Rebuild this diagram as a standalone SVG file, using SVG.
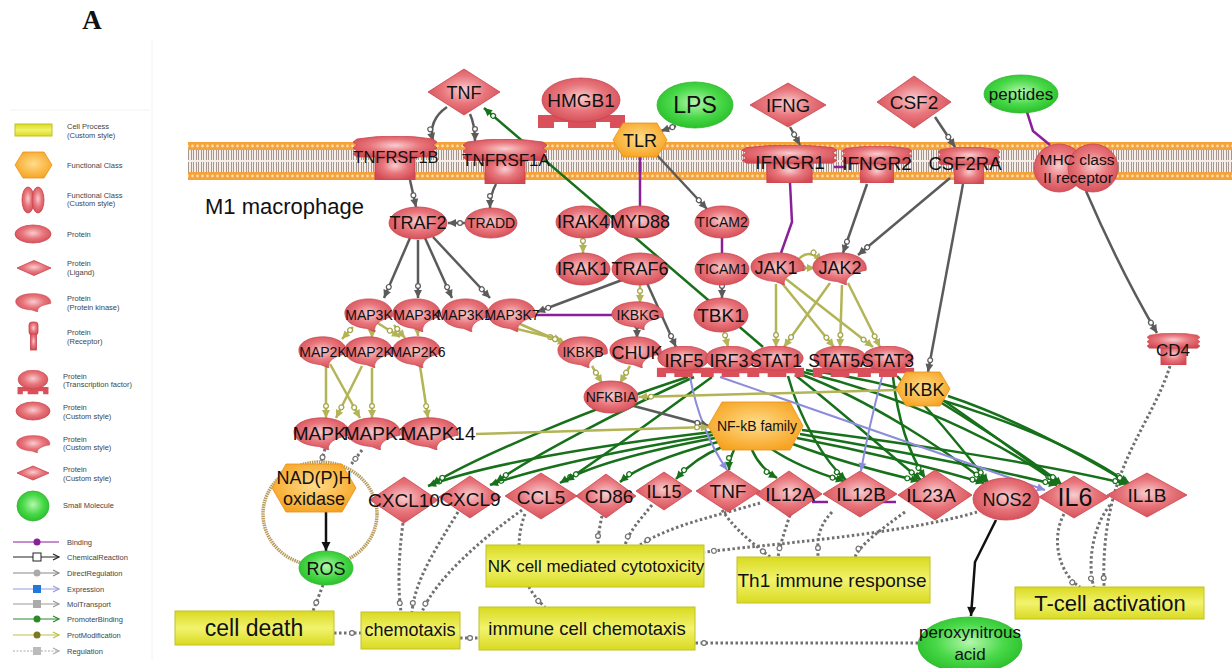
<svg xmlns="http://www.w3.org/2000/svg" xmlns:xlink="http://www.w3.org/1999/xlink" width="1232" height="668" viewBox="0 0 1232 668">
<style>
.t{font-family:"Liberation Sans",Arial,sans-serif;text-anchor:middle;fill:#111}
.lg{font-family:"Liberation Sans",Arial,sans-serif;font-size:7.5px;fill:#444}
.p{fill:url(#redG);stroke:#c9444e;stroke-width:0.8}
.o{fill:url(#orG);stroke:#e8901a;stroke-width:0.8}
.sm{fill:url(#grG);stroke:#2fb52f;stroke-width:0.8}
.cp{fill:url(#yeG);stroke:#c2c228;stroke-width:1}
.gr{fill:none;stroke:#5b5b5b;stroke-width:2.5;marker-end:url(#aG)}
.pu{fill:none;stroke:#8a1f9a;stroke-width:2.5}
.ol{fill:none;stroke:#b3b456;stroke-width:2.5;marker-end:url(#aO)}
.gn{fill:none;stroke:#17701a;stroke-width:2.5;marker-end:url(#aN)}
.bl{fill:none;stroke:#8c8cdc;stroke-width:2;marker-end:url(#aB)}
.dt{fill:none;stroke:#707070;stroke-width:3;stroke-dasharray:2.5 2.5;marker-end:url(#aD)}
.bk{fill:none;stroke:#111;stroke-width:2.5;marker-end:url(#aK)}
</style>
<defs>
<radialGradient id="redG" cx="50%" cy="45%" r="60%"><stop offset="0" stop-color="#f8cdd0"/><stop offset="0.5" stop-color="#e8767c"/><stop offset="1" stop-color="#d34a53"/></radialGradient>
<radialGradient id="orG" cx="50%" cy="45%" r="60%"><stop offset="0" stop-color="#ffdc8a"/><stop offset="1" stop-color="#f6a21e"/></radialGradient>
<radialGradient id="grG" cx="50%" cy="45%" r="60%"><stop offset="0" stop-color="#b5f7ad"/><stop offset="0.55" stop-color="#48d848"/><stop offset="1" stop-color="#25bb25"/></radialGradient>
<linearGradient id="yeG" x1="0" y1="0" x2="0" y2="1"><stop offset="0" stop-color="#d9da20"/><stop offset="0.5" stop-color="#f2f36e"/><stop offset="1" stop-color="#d9da20"/></linearGradient>
<pattern id="mem" x="0" y="142" width="5" height="38" patternUnits="userSpaceOnUse">
<rect width="5" height="38" fill="#f4ede8"/>
<rect width="5" height="8" fill="#f5a23a"/><circle cx="2.5" cy="4" r="1.4" fill="#ffdcaa"/>
<rect y="30" width="5" height="8" fill="#f5a23a"/><circle cx="2.5" cy="34" r="1.4" fill="#ffdcaa"/>
<path d="M1.5 8V18M3.5 8V18M1.5 20V30M3.5 20V30" stroke="#918179" stroke-width="0.8"/>
</pattern>
<symbol id="kin" viewBox="0 0 60 38" preserveAspectRatio="none"><path d="M58 21C60 8 45 1 30 1C13 1 1 8 1 17C1 27 13 33 27 34L37 38C35 30 43 24 58 21Z" fill="url(#redG)" stroke="#c9444e" stroke-width="0.8"/></symbol>
<symbol id="tf" viewBox="0 0 60 34" preserveAspectRatio="none"><path d="M1 23H59V33H49V29H40V33H20V29H11V33H1Z" fill="#d9505a"/><ellipse cx="30" cy="13" rx="28" ry="13" fill="url(#redG)" stroke="#c9444e" stroke-width="0.8"/></symbol>
<symbol id="rec" viewBox="0 0 84 44" preserveAspectRatio="none"><rect x="22" y="18" width="40" height="26" fill="url(#redG)" stroke="#c9444e" stroke-width="0.8"/><path d="M4 3Q42 -3 80 3L84 6L80 9L84 12L80 15L84 18L80 21L4 21L0 18L4 15L0 12L4 9L0 6Z" fill="url(#redG)" stroke="#c9444e" stroke-width="0.8"/></symbol>
<marker id="aG" markerUnits="userSpaceOnUse" markerWidth="20" markerHeight="20" refX="0" refY="0" orient="auto" overflow="visible"><path d="M0,0L-8,-4L-8,4Z" fill="#5b5b5b"/><circle cx="-12" cy="0" r="2.4" fill="#fff" stroke="#5b5b5b" stroke-width="1.2"/></marker>
<marker id="aO" markerUnits="userSpaceOnUse" markerWidth="20" markerHeight="20" refX="0" refY="0" orient="auto" overflow="visible"><path d="M0,0L-8,-4L-8,4Z" fill="#b3b456"/><circle cx="-12" cy="0" r="2.4" fill="#fff" stroke="#a3a44a" stroke-width="1.2"/></marker>
<marker id="aN" markerUnits="userSpaceOnUse" markerWidth="20" markerHeight="20" refX="0" refY="0" orient="auto" overflow="visible"><path d="M0,0L-8,-4L-8,4Z" fill="#17701a"/><circle cx="-12" cy="0" r="2.4" fill="#fff" stroke="#17701a" stroke-width="1.2"/></marker>
<marker id="aB" markerUnits="userSpaceOnUse" markerWidth="20" markerHeight="20" refX="0" refY="0" orient="auto" overflow="visible"><path d="M0,0L-8,-4L-8,4Z" fill="#8c8cdc"/></marker>
<marker id="aD" markerUnits="userSpaceOnUse" markerWidth="20" markerHeight="20" refX="0" refY="0" orient="auto" overflow="visible"><circle cx="-9" cy="0" r="2.4" fill="#fff" stroke="#707070" stroke-width="1.2"/></marker>
<marker id="aK" markerUnits="userSpaceOnUse" markerWidth="20" markerHeight="20" refX="0" refY="0" orient="auto" overflow="visible"><path d="M0,0L-9,-4.5L-9,4.5Z" fill="#111"/></marker>
<marker id="lA" markerUnits="userSpaceOnUse" markerWidth="20" markerHeight="20" refX="0" refY="0" orient="auto" overflow="visible"><path d="M-6,-3L0,0L-6,3" fill="none" stroke="context-stroke" stroke-width="1.2"/></marker>
</defs>
<rect width="1232" height="668" fill="#fff"/>
<text x="92" y="29" font-family="'Liberation Serif','Times New Roman',serif" font-weight="bold" font-size="27" text-anchor="middle" fill="#111">A</text>

<g id="legend">
<line x1="152" y1="40" x2="152" y2="660" stroke="#f2f2f2" stroke-width="1"/>
<line x1="10" y1="110" x2="150" y2="110" stroke="#f2f2f2" stroke-width="1"/>
<rect x="15" y="124" width="37" height="12" class="cp"/>
<polygon points="15,165 23,152 44,152 52,165 44,178 23,178" class="o"/>
<ellipse cx="28" cy="200" rx="6" ry="13" class="p"/><ellipse cx="38" cy="200" rx="6" ry="13" class="p"/>
<ellipse cx="33" cy="234" rx="18" ry="9" class="p"/>
<polygon points="17,268 34,260.5 51,268 34,275.5" class="p"/>
<use href="#kin" x="15" y="293" width="37" height="19"/>
<rect x="29" y="322" width="9" height="13" rx="3" class="p"/><rect x="30.5" y="334" width="6" height="16" class="p"/>
<use href="#tf" x="17" y="370" width="32" height="25"/>
<ellipse cx="33" cy="411" rx="17" ry="9" class="p"/>
<use href="#kin" x="16" y="435" width="35" height="18"/>
<polygon points="17,473 33,466 49,473 33,480" class="p"/>
<ellipse cx="33" cy="506" rx="16" ry="15" class="sm"/>
<line x1="13" y1="542" x2="59" y2="542" stroke="#8a1f9a" stroke-width="1.2"/><circle cx="37" cy="542" r="3.5" fill="#8a1f9a"/>
<line x1="13" y1="557" x2="59" y2="557" stroke="#222" stroke-width="1.2" marker-end="url(#lA)"/><rect x="33" y="553" width="8" height="8" fill="#fff" stroke="#222"/>
<line x1="13" y1="573" x2="59" y2="573" stroke="#888" stroke-width="1.2" marker-end="url(#lA)"/><circle cx="37" cy="573" r="3.5" fill="#aaa"/>
<line x1="13" y1="589" x2="59" y2="589" stroke="#9a9ae0" stroke-width="1.2" marker-end="url(#lA)"/><rect x="33" y="585" width="8" height="8" fill="#2277dd"/>
<line x1="13" y1="604" x2="59" y2="604" stroke="#999" stroke-width="1.2" marker-end="url(#lA)"/><rect x="33" y="600" width="8" height="8" fill="#aaa"/>
<line x1="13" y1="619" x2="59" y2="619" stroke="#2a8a2a" stroke-width="1.2" marker-end="url(#lA)"/><circle cx="37" cy="619" r="3.5" fill="#2a8a2a"/>
<line x1="13" y1="635" x2="59" y2="635" stroke="#c0c040" stroke-width="1.2" marker-end="url(#lA)"/><circle cx="37" cy="635" r="3.5" fill="#7a7a20"/>
<line x1="13" y1="651" x2="59" y2="651" stroke="#aaa" stroke-width="1.2" stroke-dasharray="2 1.5" marker-end="url(#lA)"/><rect x="33" y="647" width="8" height="8" fill="#bbb"/>
<text class="lg" x="67" y="129">Cell Process</text><text class="lg" x="67" y="138">(Custom style)</text>
<text class="lg" x="67" y="168">Functional Class</text>
<text class="lg" x="67" y="198">Functional Class</text><text class="lg" x="67" y="206">(Custom style)</text>
<text class="lg" x="67" y="237">Protein</text>
<text class="lg" x="67" y="266">Protein</text><text class="lg" x="67" y="275">(Ligand)</text>
<text class="lg" x="67" y="301">Protein</text><text class="lg" x="67" y="310">(Protein kinase)</text>
<text class="lg" x="67" y="335">Protein</text><text class="lg" x="67" y="344">(Receptor)</text>
<text class="lg" x="63" y="379">Protein</text><text class="lg" x="63" y="387">(Transcription factor)</text>
<text class="lg" x="63" y="410">Protein</text><text class="lg" x="63" y="419">(Custom style)</text>
<text class="lg" x="63" y="442">Protein</text><text class="lg" x="63" y="450">(Custom style)</text>
<text class="lg" x="63" y="472">Protein</text><text class="lg" x="63" y="481">(Custom style)</text>
<text class="lg" x="63" y="508">Small Molecule</text>
<text class="lg" x="67" y="545">Binding</text>
<text class="lg" x="67" y="560">ChemicalReaction</text>
<text class="lg" x="67" y="576">DirectRegulation</text>
<text class="lg" x="67" y="592">Expression</text>
<text class="lg" x="67" y="607">MolTransport</text>
<text class="lg" x="67" y="622">PromoterBinding</text>
<text class="lg" x="67" y="638">ProtModification</text>
<text class="lg" x="67" y="654">Regulation</text>
</g>

<g id="membrane">
<rect x="188" y="142" width="1044" height="38" fill="url(#mem)"/>
<text class="t" x="205" y="214" font-size="22" text-anchor="start" style="text-anchor:start">M1 macrophage</text>
</g>

<g id="connectors">
<!-- regulation (dotted) -->
<path class="dt" d="M325 449L320 466"/>
<path class="dt" d="M362 450L350 466"/>
<path class="dt" d="M323 585L313 611"/>
<path class="dt" d="M334 633L361 633"/>
<path class="dt" d="M460 638L479 638"/>
<path class="dt" d="M918 643L695 643"/>
<path class="dt" d="M403 523C398 560 398 590 401 612"/>
<path class="dt" d="M458 512C435 550 415 580 412 612"/>
<path class="dt" d="M522 510C480 540 435 580 422 612"/>
<path class="dt" d="M525 514C515 540 515 580 545 607"/>
<path class="dt" d="M602 516C600 525 598 535 598 545"/>
<path class="dt" d="M652 505C640 520 630 530 625 545"/>
<path class="dt" d="M760 503C720 515 670 525 640 545"/>
<path class="dt" d="M977 512C900 535 760 545 705 552"/>
<path class="dt" d="M722 510C735 530 755 545 770 557"/>
<path class="dt" d="M790 515C785 530 780 545 778 557"/>
<path class="dt" d="M832 512C815 530 818 545 818 557"/>
<path class="dt" d="M905 512C880 530 860 545 855 557"/>
<path class="dt" d="M1064 514C1050 540 1060 575 1080 587"/>
<path class="dt" d="M1110 505C1090 530 1088 570 1094 587"/>
<path class="dt" d="M1170 366C1150 430 1100 470 1104 587"/>
<!-- promoter binding (green) -->
<path class="gn" d="M763 347L484 108"/>
<path class="gn" d="M712 432C600 445 480 465 428 486"/>
<path class="gn" d="M713 435C620 450 530 470 490 485"/>
<path class="gn" d="M715 438C650 450 590 465 560 483"/>
<path class="gn" d="M718 442C680 452 640 465 620 482"/>
<path class="gn" d="M722 447Q695 458 676 479"/>
<path class="gn" d="M734 450Q729 460 729 470"/>
<path class="gn" d="M752 450Q760 468 777 478"/>
<path class="gn" d="M770 448C795 465 820 474 844 481"/>
<path class="gn" d="M790 443C830 458 880 472 919 481"/>
<path class="gn" d="M797 438C870 452 940 470 984 483"/>
<path class="gn" d="M800 434C880 448 990 468 1057 485"/>
<path class="gn" d="M802 430C900 442 1050 465 1127 484"/>
<path class="gn" d="M688 377C600 405 480 455 432 484"/>
<path class="gn" d="M694 377C620 410 530 458 496 482"/>
<path class="gn" d="M712 377C660 415 600 458 566 481"/>
<path class="gn" d="M788 376C800 420 825 462 846 480"/>
<path class="gn" d="M795 375C840 410 890 455 921 480"/>
<path class="gn" d="M800 374C870 400 945 450 986 482"/>
<path class="gn" d="M803 372C900 395 1000 440 1058 484"/>
<path class="gn" d="M806 370C920 385 1060 435 1128 483"/>
<path class="gn" d="M893 377C898 420 910 455 925 478"/>
<path class="gn" d="M897 376C930 410 965 452 988 482"/>
<path class="gn" d="M905 375C960 410 1020 455 1060 484"/>
<path class="gn" d="M940 402C985 430 1035 462 1062 485"/>
<path class="gn" d="M948 396C1020 420 1090 460 1130 484"/>
<!-- expression (blue) -->
<path class="bl" d="M690 377Q700 430 727 470"/>
<path class="bl" d="M720 377L1045 490"/>
<path class="bl" d="M882 377Q868 430 861 471"/>
<!-- direct regulation (gray) -->
<path class="gr" d="M447 107Q428 120 433 141"/>
<path class="gr" d="M470 114Q475 125 475 141"/>
<path class="gr" d="M410 180L416 207"/>
<path class="gr" d="M496 184Q490 195 490 208"/>
<path class="gr" d="M465 223L448 223"/>
<path class="gr" d="M410 238L384 298"/>
<path class="gr" d="M418 240L418 298"/>
<path class="gr" d="M425 238L452 298"/>
<path class="gr" d="M433 237L490 298"/>
<path class="gr" d="M622 280L537 312"/>
<path class="gr" d="M647 283L676 347"/>
<path class="gr" d="M637 327L637 338"/>
<path class="gr" d="M676 126L661 131"/>
<path class="gr" d="M655 153L707 209"/>
<path class="gr" d="M722 285L722 298"/>
<path class="gr" d="M790 127L800 145"/>
<path class="gr" d="M935 117L955 147"/>
<path class="gr" d="M867 184L843 253"/>
<path class="gr" d="M950 178L858 255"/>
<path class="gr" d="M963 184L928 372"/>
<path class="gr" d="M1086 191Q1120 270 1157 333"/>
<path class="gr" d="M630 405L709 426"/>
<!-- binding (purple) -->
<path class="pu" d="M640 157L640 207"/>
<path class="pu" d="M722 238L722 253"/>
<path class="pu" d="M790 183L792 222L781 253"/>
<path class="pu" d="M834 167L846 167"/>
<path class="pu" d="M1027 112L1033 131L1050 145"/>
<path class="pu" d="M536 315L612 315"/>
<path class="pu" d="M812 502L828 502"/>
<path class="pu" d="M882 502L896 502"/>
<!-- prot modification (olive) -->
<path class="ol" d="M583 238L583 253"/>
<path class="ol" d="M640 285L640 303"/>
<path class="ol" d="M724 331L728 347"/>
<path class="ol" d="M797 261Q808 247 822 261"/>
<path class="ol" d="M803 268L815 268"/>
<path class="ol" d="M776 284L776 347"/>
<path class="ol" d="M781 282L834 347"/>
<path class="ol" d="M786 279L873 347"/>
<path class="ol" d="M830 283L784 347"/>
<path class="ol" d="M842 285L840 347"/>
<path class="ol" d="M848 283L880 347"/>
<path class="ol" d="M353 327L342 339"/>
<path class="ol" d="M372 323L372 338"/>
<path class="ol" d="M376 322L400 337"/>
<path class="ol" d="M394 325L405 338"/>
<path class="ol" d="M417 323L418 336"/>
<path class="ol" d="M326 366L326 418"/>
<path class="ol" d="M330 364L360 418"/>
<path class="ol" d="M362 366L336 418"/>
<path class="ol" d="M372 368L372 418"/>
<path class="ol" d="M420 366L428 418"/>
<path class="ol" d="M505 326L562 340"/>
<path class="ol" d="M520 324L566 344"/>
<path class="ol" d="M592 366L602 383"/>
<path class="ol" d="M630 366L620 383"/>
<path class="ol" d="M476 434L709 427"/>
<path class="ol" d="M897 390L639 397"/>
<!-- chemical reaction (black) -->
<path class="bk" d="M326 512L326 551"/>
<path class="bk" d="M996 520L975 562L971 616"/>
</g>

<g id="ring"><ellipse cx="320" cy="514" rx="57" ry="52" fill="none" stroke="#b99b5c" stroke-width="3.5" stroke-dasharray="1.5 0.8"/></g>

<g id="n-TNF-top"><polygon class="p" points="428,92 464,69 500,92 464,115"/><text class="t" x="464" y="99" font-size="18">TNF</text></g>
<g id="n-HMGB1"><path d="M538 115H625V128H610V122H596V128H568V122H554V128H538Z" fill="#d9505a"/><ellipse class="p" cx="581" cy="100" rx="39" ry="22"/><text class="t" x="581" y="107" font-size="19">HMGB1</text></g>
<g id="n-LPS"><ellipse class="sm" cx="695" cy="105" rx="38" ry="23"/><text class="t" x="695" y="113" font-size="23">LPS</text></g>
<g id="n-TLR"><polygon class="o" points="613,140 623,123 657,123 667,140 657,157 623,157"/><text class="t" x="640" y="147" font-size="18">TLR</text></g>
<g id="n-IFNG"><polygon class="p" points="750,105 788,83 826,105 788,127"/><text class="t" x="788" y="112" font-size="18.5">IFNG</text></g>
<g id="n-CSF2"><polygon class="p" points="877,102 914,76 951,102 914,128"/><text class="t" x="914" y="109" font-size="19">CSF2</text></g>
<g id="n-peptides"><ellipse class="sm" cx="1021" cy="94" rx="37" ry="19"/><text class="t" x="1021" y="100" font-size="17">peptides</text></g>
<g id="n-TNFRSF1B"><use href="#rec" x="353" y="136" width="84" height="44"/><text class="t" x="396" y="163" font-size="16.5">TNFRSF1B</text></g>
<g id="n-TNFRSF1A"><use href="#rec" x="463" y="139" width="84" height="45"/><text class="t" x="506" y="166" font-size="17">TNFRSF1A</text></g>
<g id="n-IFNGR1"><use href="#rec" x="742" y="145" width="95" height="38"/><text class="t" x="790" y="169" font-size="19">IFNGR1</text></g>
<g id="n-IFNGR2"><use href="#rec" x="842" y="146" width="70" height="37"/><text class="t" x="877" y="170" font-size="19">IFNGR2</text></g>
<g id="n-CSF2RA"><use href="#rec" x="938" y="147" width="62" height="37"/><text class="t" x="965" y="170" font-size="18.5">CSF2RA</text></g>
<g id="n-MHC"><ellipse class="p" cx="1059" cy="168" rx="25" ry="24"/><ellipse class="p" cx="1093" cy="168" rx="25" ry="24"/><text class="t" x="1077" y="165" font-size="15.5">MHC class</text><text class="t" x="1078" y="183" font-size="15.5">II receptor</text></g>

<g id="n-TRAF2"><ellipse class="p" cx="418" cy="223" rx="29" ry="16"/><text class="t" x="418" y="229" font-size="18">TRAF2</text></g>
<g id="n-TRADD"><ellipse class="p" cx="491" cy="223" rx="26" ry="15"/><text class="t" x="491" y="228" font-size="14">TRADD</text></g>
<g id="n-IRAK4"><ellipse class="p" cx="583" cy="222" rx="27" ry="16"/><text class="t" x="583" y="228" font-size="18">IRAK4</text></g>
<g id="n-MYD88"><ellipse class="p" cx="640" cy="222" rx="28" ry="16"/><text class="t" x="640" y="228" font-size="18">MYD88</text></g>
<g id="n-TICAM2"><ellipse class="p" cx="722" cy="222" rx="27" ry="16"/><text class="t" x="722" y="227" font-size="14">TICAM2</text></g>
<g id="n-IRAK1"><ellipse class="p" cx="583" cy="269" rx="27" ry="16"/><text class="t" x="583" y="275" font-size="18">IRAK1</text></g>
<g id="n-TRAF6"><ellipse class="p" cx="640" cy="269" rx="28" ry="16"/><text class="t" x="640" y="275" font-size="18">TRAF6</text></g>
<g id="n-TICAM1"><ellipse class="p" cx="722" cy="269" rx="27" ry="16"/><text class="t" x="722" y="274" font-size="14">TICAM1</text></g>
<g id="n-JAK1"><use href="#kin" x="750" y="252" width="56" height="33"/><text class="t" x="776" y="274" font-size="18">JAK1</text></g>
<g id="n-JAK2"><use href="#kin" x="812" y="252" width="56" height="33"/><text class="t" x="840" y="274" font-size="18">JAK2</text></g>

<g id="n-MAP3K-1"><use href="#kin" x="344" y="298" width="50" height="34"/><text class="t" x="369" y="320" font-size="14">MAP3K</text></g>
<g id="n-MAP3K-2"><use href="#kin" x="392" y="298" width="50" height="34"/><text class="t" x="417" y="320" font-size="14">MAP3K</text></g>
<g id="n-MAP3K14"><use href="#kin" x="441" y="298" width="50" height="34"/><text class="t" x="468" y="320" font-size="14">MAP3K14</text></g>
<g id="n-MAP3K7"><use href="#kin" x="487" y="298" width="50" height="34"/><text class="t" x="512" y="320" font-size="14">MAP3K7</text></g>
<g id="n-IKBKG"><use href="#kin" x="611" y="301" width="54" height="29"/><text class="t" x="638" y="320" font-size="14">IKBKG</text></g>
<g id="n-TBK1"><ellipse class="p" cx="721" cy="315" rx="27" ry="17"/><text class="t" x="721" y="322" font-size="19">TBK1</text></g>

<g id="n-MAP2K-1"><use href="#kin" x="298" y="336" width="50" height="32"/><text class="t" x="323" y="357" font-size="14">MAP2K</text></g>
<g id="n-MAP2K-2"><use href="#kin" x="344" y="336" width="50" height="32"/><text class="t" x="369" y="357" font-size="14">MAP2K</text></g>
<g id="n-MAP2K6"><use href="#kin" x="392" y="336" width="50" height="32"/><text class="t" x="418" y="357" font-size="14">MAP2K6</text></g>
<g id="n-IKBKB"><use href="#kin" x="557" y="336" width="52" height="32"/><text class="t" x="583" y="357" font-size="14">IKBKB</text></g>
<g id="n-CHUK"><use href="#kin" x="609" y="336" width="54" height="32"/><text class="t" x="637" y="359" font-size="18">CHUK</text></g>

<g id="n-IRF5"><use href="#tf" x="656" y="346" width="55" height="32"/><text class="t" x="684" y="367" font-size="18">IRF5</text></g>
<g id="n-IRF3"><use href="#tf" x="704" y="346" width="53" height="32"/><text class="t" x="729" y="367" font-size="18">IRF3</text></g>
<g id="n-STAT1"><use href="#tf" x="749" y="346" width="56" height="32"/><text class="t" x="776" y="367" font-size="17.5">STAT1</text></g>
<g id="n-STAT5A"><use href="#tf" x="812" y="346" width="56" height="32"/><text class="t" x="840" y="367" font-size="17.5">STAT5A</text></g>
<g id="n-STAT3"><use href="#tf" x="861" y="346" width="54" height="32"/><text class="t" x="888" y="367" font-size="17.5">STAT3</text></g>
<g id="n-IKBK"><polygon class="o" points="896,389 906,372 940,372 950,389 940,406 906,406"/><text class="t" x="924" y="396" font-size="18">IKBK</text></g>
<g id="n-CD4"><use href="#rec" x="1147" y="333" width="53" height="32"/><text class="t" x="1173" y="356" font-size="17">CD4</text></g>
<g id="n-NFKBIA"><ellipse class="p" cx="611" cy="397" rx="27" ry="16"/><text class="t" x="611" y="402" font-size="14">NFKBIA</text></g>

<g id="n-MAPK3"><use href="#kin" x="293" y="417" width="58" height="33"/><text class="t" x="325" y="440" font-size="19">MAPK3</text></g>
<g id="n-MAPK1"><use href="#kin" x="346" y="417" width="56" height="33"/><text class="t" x="376" y="440" font-size="19">MAPK1</text></g>
<g id="n-MAPK14"><use href="#kin" x="400" y="417" width="60" height="33"/><text class="t" x="438" y="440" font-size="19">MAPK14</text></g>
<g id="n-NFkB"><polygon class="o" points="708,426 722,402 790,402 803,426 790,450 722,450"/><text class="t" x="757" y="431" font-size="14">NF-kB family</text></g>
<g id="n-NADPH"><polygon class="o" points="272,488 286,464 342,464 356,488 342,512 286,512"/><text class="t" x="314" y="484" font-size="18">NAD(P)H</text><text class="t" x="314" y="505" font-size="18">oxidase</text></g>
<g id="n-ROS"><ellipse class="sm" cx="326" cy="568" rx="27" ry="17"/><text class="t" x="326" y="575" font-size="18">ROS</text></g>

<g id="n-CXCL10"><polygon class="p" points="370,500 404,477 438,500 404,523"/><text class="t" x="404" y="507" font-size="19">CXCL10</text></g>
<g id="n-CXCL9"><polygon class="p" points="439,497 470,476 501,497 470,518"/><text class="t" x="470" y="506" font-size="19">CXCL9</text></g>
<g id="n-CCL5"><polygon class="p" points="505,496 541,473 577,496 541,519"/><text class="t" x="541" y="504" font-size="19">CCL5</text></g>
<g id="n-CD86"><polygon class="p" points="576,496 606,474 636,496 606,518"/><text class="t" x="609" y="503" font-size="19">CD86</text></g>
<g id="n-IL15"><polygon class="p" points="636,491 664,472 692,491 664,510"/><text class="t" x="664" y="498" font-size="18">IL15</text></g>
<g id="n-TNF"><polygon class="p" points="696,491 728,470 760,491 728,512"/><text class="t" x="728" y="498" font-size="19">TNF</text></g>
<g id="n-IL12A"><polygon class="p" points="756,494 789,471 822,494 789,517"/><text class="t" x="790" y="501" font-size="19">IL12A</text></g>
<g id="n-IL12B"><polygon class="p" points="823,494 860,471 897,494 860,517"/><text class="t" x="861" y="501" font-size="19">IL12B</text></g>
<g id="n-IL23A"><polygon class="p" points="898,495 935,470 972,495 935,520"/><text class="t" x="931" y="502" font-size="19">IL23A</text></g>
<g id="n-NOS2"><ellipse class="p" cx="1006" cy="499" rx="33" ry="21"/><text class="t" x="1007" y="506" font-size="18">NOS2</text></g>
<g id="n-IL6"><polygon class="p" points="1039,497 1074,476 1109,497 1074,518"/><text class="t" x="1075" y="506" font-size="25">IL6</text></g>
<g id="n-IL1B"><polygon class="p" points="1107,495 1147,473 1187,495 1147,517"/><text class="t" x="1147" y="502" font-size="19">IL1B</text></g>

<g id="n-NKcell"><rect class="cp" x="486" y="545" width="218" height="42"/><text class="t" x="596" y="572" font-size="17">NK cell mediated cytotoxicity</text></g>
<g id="n-Th1"><rect class="cp" x="737" y="557" width="193" height="46"/><text class="t" x="832" y="587" font-size="19">Th1 immune response</text></g>
<g id="n-Tcell"><rect class="cp" x="1015" y="587" width="189" height="32"/><text class="t" x="1110" y="611" font-size="22">T-cell activation</text></g>
<g id="n-celldeath"><rect class="cp" x="175" y="611" width="159" height="34"/><text class="t" x="254" y="636" font-size="23">cell death</text></g>
<g id="n-chemotaxis"><rect class="cp" x="361" y="612" width="99" height="37"/><text class="t" x="410" y="636" font-size="18">chemotaxis</text></g>
<g id="n-immune"><rect class="cp" x="479" y="607" width="216" height="43"/><text class="t" x="587" y="635" font-size="18.5">immune cell chemotaxis</text></g>
<g id="n-peroxy"><ellipse class="sm" cx="970" cy="645" rx="52" ry="28"/><text class="t" x="970" y="638" font-size="17">peroxynitrous</text><text class="t" x="970" y="660" font-size="17">acid</text></g>
</svg>
